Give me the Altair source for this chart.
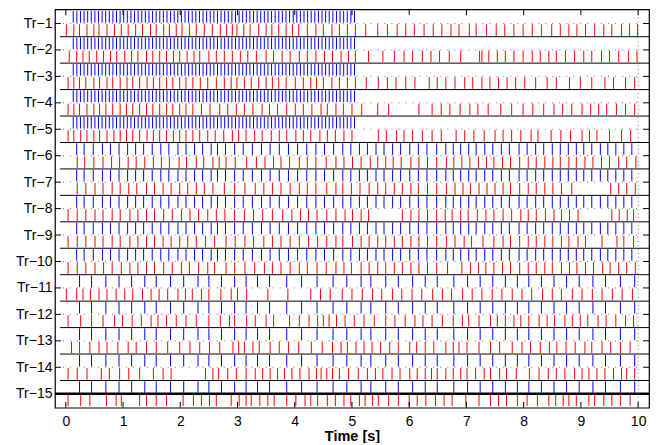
import json
import altair as alt
import pandas as pd

# ---------------- data ----------------
trial_names = ["Tr\u22121", "Tr\u22122", "Tr\u22123", "Tr\u22124", "Tr\u22125",
               "Tr\u22126", "Tr\u22127", "Tr\u22128", "Tr\u22129", "Tr\u221210",
               "Tr\u221211", "Tr\u221212", "Tr\u221213", "Tr\u221214", "Tr\u221215"]
x_tick_values = [0, 1, 2, 3, 4, 5, 6, 7, 8, 9, 10]

# stimulus (blue) trains, shared by groups of trials
blue_a = [0.130, 0.193, 0.256, 0.319, 0.382, 0.445, 0.508, 0.571, 0.634, 0.697,
          0.760, 0.823, 0.886, 0.949, 1.012, 1.075, 1.138, 1.201, 1.264, 1.327,
          1.390, 1.453, 1.516, 1.579, 1.642, 1.705, 1.768, 1.831, 1.894, 1.957,
          2.020, 2.083, 2.146, 2.209, 2.272, 2.335, 2.398, 2.461, 2.524, 2.587,
          2.650, 2.713, 2.776, 2.839, 2.902, 2.965, 3.028, 3.091, 3.154, 3.217,
          3.280, 3.343, 3.406, 3.469, 3.532, 3.595, 3.658, 3.721, 3.784, 3.847,
          3.910, 3.973, 4.036, 4.099, 4.162, 4.225, 4.288, 4.351, 4.414, 4.477,
          4.540, 4.603, 4.666, 4.729, 4.792, 4.855, 4.918, 4.981, 5.044]
blue_b = [0.19, 0.32, 0.48, 0.64, 0.78, 0.93, 1.08, 1.22, 1.36, 1.51, 1.66, 1.80,
          1.96, 2.10, 2.25, 2.39, 2.54, 2.65, 2.79, 2.95, 3.10, 3.26, 3.42, 3.57,
          3.73, 3.89, 4.05, 4.21, 4.37, 4.52, 4.68, 4.84, 4.98, 5.13, 5.27, 5.42,
          5.56, 5.71, 5.85, 6.01, 6.16, 6.31, 6.48, 6.64, 6.77, 6.90, 7.04, 7.17,
          7.32, 7.46, 7.61, 7.75, 7.92, 8.06, 8.21, 8.35, 8.50, 8.64, 8.78, 8.92,
          9.05, 9.19, 9.34, 9.47, 9.61, 9.75, 9.89]
blue_c = [0.24, 0.45, 0.70, 0.93, 1.15, 1.38, 1.58, 1.83, 2.06, 2.31, 2.50, 2.72,
          2.95, 3.15, 3.35, 3.56, 3.86, 4.12, 4.39, 4.67, 4.91, 5.16, 5.33, 5.59,
          5.81, 6.06, 6.28, 6.49, 6.78, 7.02, 7.24, 7.46, 7.68, 7.89, 8.09, 8.31,
          8.53, 8.75, 8.97, 9.21, 9.43, 9.69, 9.94]

# response (red) trains, one per trial
red_1 = [0.01, 0.14, 0.24, 0.37, 0.49, 0.58, 0.72, 0.85, 0.97, 1.09, 1.22, 1.34, 1.48, 1.58,
         1.71, 1.81, 1.93, 2.03, 2.16, 2.28, 2.42, 2.56, 2.70, 2.81, 2.91, 2.99, 3.11, 3.22,
         3.37, 3.50, 3.60, 3.72, 3.85, 3.96, 4.07, 4.22, 4.37, 4.50, 4.65, 4.78, 4.92, 5.06,
         5.24, 5.45, 5.62, 5.79, 5.94, 6.09, 6.26, 6.42, 6.57, 6.73, 6.87, 7.05, 7.17, 7.35,
         7.52, 7.67, 7.83, 7.99, 8.15, 8.31, 8.49, 8.64, 8.79, 8.93, 9.08, 9.24, 9.40, 9.54,
         9.71, 9.85, 9.99]
red_2 = [0.06, 0.19, 0.30, 0.41, 0.54, 0.66, 0.78, 0.89, 1.03, 1.15, 1.26, 1.41, 1.52, 1.64,
         1.76, 1.88, 1.99, 2.12, 2.24, 2.34, 2.50, 2.63, 2.77, 2.91, 3.05, 3.18, 3.33, 3.50,
         3.63, 3.78, 3.92, 4.08, 4.22, 4.37, 4.52, 4.66, 4.81, 4.94, 5.06, 5.29, 5.54, 5.74,
         5.91, 6.06, 6.23, 6.38, 6.53, 6.70, 6.90, 7.23, 7.27, 7.39, 7.54, 7.68, 7.83, 7.99,
         8.15, 8.29, 8.44, 8.57, 8.73, 8.89, 9.05, 9.19, 9.36, 9.50, 9.66, 9.83, 9.98]
red_3 = [0.04, 0.14, 0.24, 0.35, 0.49, 0.59, 0.72, 0.82, 0.95, 1.07, 1.17, 1.29, 1.42, 1.53,
         1.64, 1.76, 1.87, 1.99, 2.10, 2.22, 2.35, 2.48, 2.63, 2.77, 2.89, 2.99, 3.12, 3.24,
         3.37, 3.50, 3.61, 3.72, 3.85, 4.01, 4.15, 4.28, 4.38, 4.50, 4.65, 4.78, 4.92, 5.06,
         5.25, 5.46, 5.62, 5.77, 5.94, 6.10, 6.35, 6.49, 6.64, 6.80, 6.97, 7.11, 7.27, 7.41,
         7.56, 7.71, 7.86, 8.02, 8.21, 8.41, 8.57, 8.80, 8.99, 9.19, 9.42, 9.57, 9.78, 9.94]
red_4 = [0.04, 0.14, 0.24, 0.37, 0.49, 0.59, 0.70, 0.82, 0.95, 1.06, 1.17, 1.29, 1.41, 1.52,
         1.64, 1.76, 1.87, 1.99, 2.10, 2.22, 2.37, 2.52, 2.69, 2.83, 2.98, 3.12, 3.27, 3.43,
         3.56, 3.70, 3.86, 4.01, 4.15, 4.30, 4.46, 4.57, 4.72, 4.85, 5.00, 5.17, 5.45, 5.64,
         6.17, 6.40, 6.56, 6.71, 6.89, 7.06, 7.20, 7.38, 7.60, 7.79, 7.99, 8.16, 8.35, 8.53,
         8.68, 8.84, 9.02, 9.17, 9.31, 9.45, 9.62, 9.78, 9.94]
red_5 = [0.04, 0.14, 0.26, 0.37, 0.49, 0.59, 0.72, 0.84, 0.95, 1.06, 1.17, 1.29, 1.42, 1.53,
         1.64, 1.76, 1.88, 1.99, 2.10, 2.22, 2.34, 2.48, 2.61, 2.76, 2.91, 3.02, 3.15, 3.30,
         3.43, 3.59, 3.73, 3.86, 4.02, 4.15, 4.28, 4.44, 4.57, 4.71, 4.86, 5.00, 5.46, 5.60,
         5.78, 5.91, 6.06, 6.23, 6.40, 6.56, 6.82, 6.97, 7.13, 7.31, 7.50, 7.64, 7.79, 7.95,
         8.13, 8.25, 8.48, 8.65, 8.82, 9.02, 9.15, 9.28, 9.50, 9.71, 9.87]
red_6 = [0.20, 0.33, 0.49, 0.65, 0.80, 0.94, 1.09, 1.23, 1.38, 1.53, 1.67, 1.81, 1.98, 2.11,
         2.28, 2.41, 2.57, 2.68, 2.80, 2.96, 3.16, 3.33, 3.48, 3.63, 3.76, 3.91, 4.08, 4.22,
         4.37, 4.55, 4.72, 4.86, 5.01, 5.16, 5.32, 5.45, 5.59, 5.72, 5.86, 6.03, 6.17, 6.32,
         6.48, 6.65, 6.78, 6.92, 7.06, 7.21, 7.35, 7.48, 7.63, 7.77, 7.93, 8.08, 8.22, 8.37,
         8.51, 8.64, 8.79, 8.92, 9.07, 9.21, 9.36, 9.50, 9.66, 9.80, 9.96]
red_7 = [0.20, 0.35, 0.51, 0.65, 0.81, 0.95, 1.10, 1.24, 1.41, 1.55, 1.70, 1.84, 1.99, 2.13,
         2.28, 2.42, 2.57, 2.77, 2.95, 3.13, 3.31, 3.46, 3.61, 3.76, 3.92, 4.08, 4.22, 4.37,
         4.56, 4.72, 4.84, 4.99, 5.14, 5.30, 5.45, 5.59, 5.74, 5.88, 6.03, 6.16, 6.32, 6.48,
         6.65, 6.80, 6.94, 7.07, 7.22, 7.36, 7.50, 7.64, 7.77, 7.93, 8.08, 8.22, 8.37, 8.51,
         8.66, 8.84, 9.52, 9.66, 9.80, 9.95]
red_8 = [0.04, 0.20, 0.35, 0.51, 0.65, 0.81, 0.95, 1.12, 1.26, 1.41, 1.55, 1.71, 1.86, 2.02,
         2.17, 2.32, 2.48, 2.63, 2.78, 2.95, 3.12, 3.28, 3.44, 3.61, 3.79, 3.95, 4.10, 4.24,
         4.39, 4.56, 4.72, 4.88, 5.01, 5.16, 5.29, 5.88, 6.03, 6.17, 6.32, 6.48, 6.63, 6.75,
         6.90, 7.03, 7.19, 7.34, 7.48, 7.64, 7.79, 7.95, 8.08, 8.22, 8.38, 8.53, 8.66, 8.80,
         8.95, 9.54, 9.67, 9.81, 9.92]
red_9 = [0.04, 0.20, 0.35, 0.51, 0.65, 0.81, 0.95, 1.12, 1.26, 1.41, 1.55, 1.70, 1.84, 1.99,
         2.13, 2.28, 2.44, 2.60, 2.80, 2.96, 3.13, 3.28, 3.46, 3.61, 3.76, 3.92, 4.08, 4.24,
         4.40, 4.56, 4.72, 4.84, 5.01, 5.16, 5.30, 5.45, 5.59, 5.74, 5.88, 6.03, 6.17, 6.32,
         6.48, 6.65, 6.80, 6.96, 7.09, 7.29, 7.48, 7.64, 7.77, 7.93, 8.08, 8.22, 8.37, 8.51,
         8.66, 8.79, 8.95, 9.08, 9.37, 9.63, 9.75, 9.92]
red_10 = [0.04, 0.20, 0.35, 0.51, 0.66, 0.81, 0.97, 1.12, 1.26, 1.41, 1.55, 1.71, 1.86, 2.02,
          2.16, 2.32, 2.48, 2.60, 2.80, 2.95, 3.13, 3.30, 3.47, 3.61, 3.76, 3.92, 4.08, 4.22,
          4.39, 4.55, 4.72, 4.86, 4.99, 5.16, 5.30, 5.45, 5.59, 5.74, 5.88, 6.03, 6.17, 6.32,
          6.48, 6.67, 6.92, 7.07, 7.21, 7.34, 7.48, 7.63, 7.77, 7.93, 8.08, 8.22, 8.37, 8.50,
          8.66, 8.80, 8.93, 9.08, 9.22, 9.38, 9.51, 9.66, 9.80, 9.95]
red_11 = [0.01, 0.19, 0.30, 0.43, 0.58, 0.72, 0.88, 1.03, 1.17, 1.34, 1.49, 1.63, 1.78, 1.96,
          2.09, 2.21, 2.37, 2.50, 2.71, 2.89, 3.00, 3.16, 3.53, 3.88, 4.28, 4.45, 4.62, 4.83,
          5.00, 5.18, 5.36, 5.52, 5.71, 5.87, 6.05, 6.22, 6.41, 6.58, 6.74, 6.93, 7.10, 7.27,
          7.45, 7.62, 7.80, 7.97, 8.14, 8.33, 8.50, 8.66, 8.85, 9.02, 9.20, 9.37, 9.55, 9.72,
          9.90]
red_12 = [0.04, 0.26, 0.45, 0.65, 0.85, 0.99, 1.16, 1.32, 1.49, 1.61, 1.76, 1.93, 2.10, 2.28,
          2.50, 2.70, 2.86, 2.95, 3.16, 3.31, 3.50, 3.63, 3.91, 4.08, 4.25, 4.40, 4.50, 4.60,
          4.73, 4.88, 5.04, 5.21, 5.39, 5.59, 5.75, 5.93, 6.10, 6.24, 6.40, 6.58, 6.77, 6.93,
          7.04, 7.22, 7.42, 7.54, 7.68, 7.83, 7.95, 8.09, 8.27, 8.41, 8.54, 8.72, 8.85, 8.99,
          9.12, 9.30, 9.44, 9.61, 9.78, 9.92]
red_13 = [0.10, 0.24, 0.42, 0.58, 0.72, 0.91, 1.09, 1.23, 1.41, 1.58, 1.78, 1.99, 2.17, 2.34,
          2.51, 2.69, 2.92, 3.02, 3.12, 3.27, 3.38, 3.57, 3.73, 3.89, 4.07, 4.29, 4.48, 4.66,
          4.81, 4.92, 5.07, 5.21, 5.35, 5.50, 5.66, 5.81, 6.01, 6.13, 6.28, 6.43, 6.64, 6.77,
          6.87, 7.01, 7.22, 7.42, 7.58, 7.80, 7.97, 8.12, 8.29, 8.45, 8.58, 8.74, 8.90, 9.07,
          9.19, 9.37, 9.52, 9.69, 9.86]
red_14 = [0.04, 0.20, 0.37, 0.62, 0.76, 0.94, 1.10, 1.29, 1.53, 1.70, 1.84, 2.44, 2.57, 2.67,
          2.83, 2.98, 3.15, 3.31, 3.44, 3.57, 3.70, 3.82, 3.95, 4.09, 4.25, 4.38, 4.46, 4.56,
          4.66, 4.78, 4.94, 5.11, 5.27, 5.41, 5.54, 5.70, 5.84, 6.01, 6.14, 6.28, 6.39, 6.49,
          6.64, 6.77, 6.90, 7.01, 7.16, 7.31, 7.42, 7.58, 7.70, 7.87, 8.10, 8.27, 8.43, 8.57,
          8.72, 8.89, 9.02, 9.14, 9.28, 9.42, 9.57, 9.71, 9.80, 9.94]
red_15 = [0.04, 0.26, 0.42, 0.71, 0.88, 0.97, 1.29, 1.41, 1.58, 1.76, 2.05, 2.23, 2.37, 2.51,
          2.63, 2.89, 3.03, 3.15, 3.24, 3.39, 3.53, 3.64, 3.86, 4.02, 4.18, 4.28, 4.40, 4.57,
          4.71, 4.86, 4.98, 5.13, 5.23, 5.36, 5.46, 5.64, 5.81, 6.00, 6.14, 6.29, 6.46, 6.61,
          6.75, 6.99, 7.22, 7.42, 7.56, 7.70, 7.89, 8.06, 8.24, 8.44, 8.56, 8.69, 8.79, 8.92,
          9.14, 9.24, 9.40, 9.54, 9.69, 9.86]

blue_trains = [blue_a] * 5 + [blue_b] * 5 + [blue_c] * 5
red_trains = [red_1, red_2, red_3, red_4, red_5, red_6, red_7, red_8, red_9, red_10,
              red_11, red_12, red_13, red_14, red_15]

# ---------------- table ----------------
records = []
for k in range(len(trial_names)):
    for t in blue_trains[k]:
        records.append({"t": t, "trial": k + 1, "kind": "blue"})
    for t in red_trains[k]:
        records.append({"t": t, "trial": k + 1, "kind": "red"})
spikes = pd.DataFrame(records)
trials_df = pd.DataFrame({"trial": list(range(1, len(trial_names) + 1))})
inner_df = trials_df[trials_df.trial < len(trial_names)]
last_df = trials_df[trials_df.trial == len(trial_names)]
xt_df = pd.DataFrame({"v": x_tick_values})

# ---------------- scales / axes ----------------
XMIN, XMAX = -0.19, 10.19
YMIN, YMAX = 0.465, 15.53
FONT = "Liberation Sans"

xs = alt.Scale(domain=[XMIN, XMAX], nice=False, zero=False)
ys = alt.Scale(domain=[YMIN, YMAX], nice=False, zero=False, reverse=True)

xaxis = alt.Axis(values=x_tick_values, title="Time [s]", ticks=False, domain=False, grid=False,
                 labelPadding=6.5, labelFontSize=14, labelFont=FONT, labelColor="black",
                 labelFontWeight="normal", labelFlush=False,
                 titleFont=FONT, titleFontSize=14.5, titleFontWeight="bold",
                 titleColor="black", titlePadding=1)
yaxis = alt.Axis(values=list(range(1, len(trial_names) + 1)),
                 labelExpr=json.dumps(trial_names) + "[datum.value - 1]",
                 ticks=False, domain=False, grid=False, labelPadding=3, labelFontSize=14,
                 labelFont=FONT, labelColor="black", labelFontWeight="normal", title=None)


def X(field):
    return alt.X(field, type="quantitative", scale=xs, axis=xaxis)


def Y(field):
    return alt.Y(field, type="quantitative", scale=ys, axis=yaxis)


def XD(v):
    return alt.XDatum(v, type="quantitative", scale=xs, axis=xaxis)


def YD(v):
    return alt.YDatum(v, type="quantitative", scale=ys, axis=yaxis)


# separators between trials
seps = alt.Chart(inner_df).transform_calculate(yy="datum.trial + 0.5").mark_rule(
    color="black", strokeWidth=1).encode(x=XD(-0.1), x2=alt.X2Datum(XMAX), y=Y("yy"))

# dotted centre lines
dots = alt.Chart(inner_df).mark_rule(color="#777777", strokeWidth=1, strokeDash=[1, 6]).encode(
    x=XD(-0.05), x2=alt.X2Datum(10.0), y=Y("trial"))

# thick line at last trial centre
thick = alt.Chart(last_df).mark_rule(color="black", strokeWidth=2.5).encode(
    x=XD(XMIN), x2=alt.X2Datum(XMAX), y=Y("trial"))

# vertical dotted line at end of recording
vline = alt.Chart(xt_df).transform_filter("datum.v == 10").mark_rule(
    color="#777777", strokeWidth=1, strokeDash=[1, 3]).encode(
    x=X("v"), y=YD(YMIN), y2=alt.Y2Datum(YMAX))

# spikes
spk = alt.Chart(spikes).transform_calculate(
    y0="datum.kind == 'blue' ? datum.trial - 0.47 : datum.trial + 0.03",
    y1="datum.kind == 'blue' ? datum.trial - 0.03 : datum.trial + 0.47",
).mark_rule(strokeWidth=1).encode(
    x=X("t"), y=Y("y0"), y2=alt.Y2("y1"),
    color=alt.Color("kind:N", scale=alt.Scale(domain=["blue", "red"], range=["#0000ff", "#ff0000"]),
                    legend=None))

# inward tick marks (MATLAB box style)
tk_top = alt.Chart(xt_df).mark_rule(color="black", strokeWidth=1).encode(
    x=X("v"), y=YD(YMIN), y2=alt.Y2Datum(YMIN + 0.22))
tk_bot = alt.Chart(xt_df).mark_rule(color="black", strokeWidth=1).encode(
    x=X("v"), y=YD(YMAX - 0.22), y2=alt.Y2Datum(YMAX))
tk_left = alt.Chart(trials_df).mark_rule(color="black", strokeWidth=1).encode(
    y=Y("trial"), x=XD(XMIN), x2=alt.X2Datum(XMIN + 0.105))
tk_right = alt.Chart(trials_df).mark_rule(color="black", strokeWidth=1).encode(
    y=Y("trial"), x=XD(XMAX - 0.105), x2=alt.X2Datum(XMAX))

chart = alt.layer(seps, dots, thick, vline, spk, tk_top, tk_bot, tk_left, tk_right).properties(
    width=595, height=399, padding={"left": 7, "top": 0, "right": 3, "bottom": 0},
    background="white",
).configure_view(stroke="black", strokeWidth=1.2)

chart.save("out.html", embed_options={"renderer": "svg", "actions": False})
